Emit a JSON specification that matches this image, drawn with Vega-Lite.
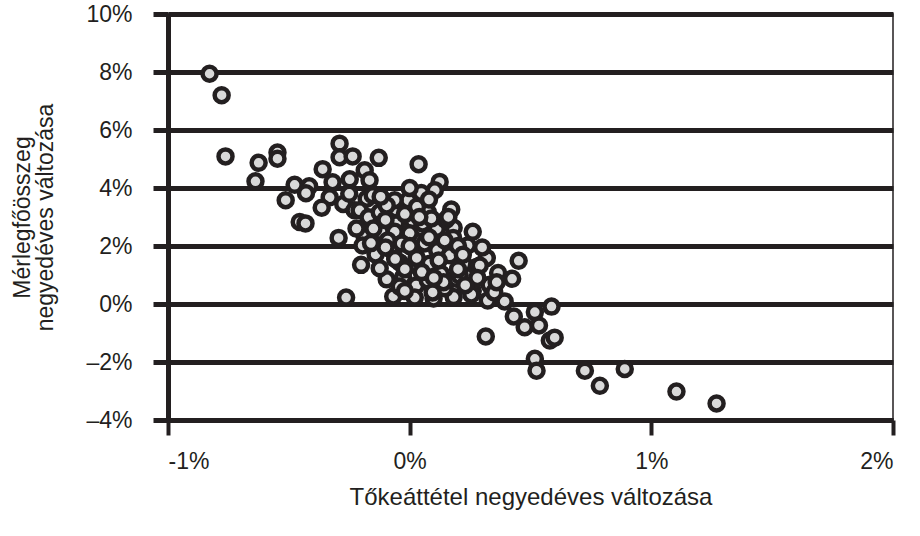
{
  "$schema": "https://vega.github.io/schema/vega-lite/v6.json",
  "width": 725,
  "height": 406,
  "autosize": {"type": "none"},
  "padding": {"left": 168, "top": 14, "right": 27, "bottom": 116},
  "background": "white",
  "config": {
    "font": "Liberation Sans",
    "view": {"stroke": "#231f20", "strokeWidth": 1.5}
  },
  "data": {
    "values": [
      {"x": -0.828, "y": 7.94}, {"x": -0.778, "y": 7.2}, {"x": -0.762, "y": 5.09}, {"x": -0.625, "y": 4.87},
      {"x": -0.547, "y": 5.22}, {"x": -0.547, "y": 5.01}, {"x": -0.638, "y": 4.23}, {"x": -0.476, "y": 4.11},
      {"x": -0.416, "y": 4.06}, {"x": -0.429, "y": 3.82}, {"x": -0.513, "y": 3.58}, {"x": -0.36, "y": 4.65},
      {"x": -0.319, "y": 4.2}, {"x": -0.248, "y": 4.3}, {"x": -0.29, "y": 5.53}, {"x": -0.29, "y": 5.06},
      {"x": -0.236, "y": 5.09}, {"x": -0.331, "y": 3.68}, {"x": -0.364, "y": 3.32}, {"x": -0.275, "y": 3.45},
      {"x": -0.228, "y": 3.23}, {"x": -0.455, "y": 2.83}, {"x": -0.431, "y": 2.78}, {"x": -0.294, "y": 2.28},
      {"x": -0.128, "y": 5.04}, {"x": 0.037, "y": 4.82}, {"x": -0.186, "y": 4.61}, {"x": -0.166, "y": 4.27},
      {"x": -0.178, "y": 3.63}, {"x": -0.207, "y": 3.23}, {"x": 0.124, "y": 4.21}, {"x": 0.104, "y": 3.92},
      {"x": 0.048, "y": 3.83}, {"x": -0.006, "y": 3.58}, {"x": -0.056, "y": 3.26}, {"x": 0.172, "y": 3.26},
      {"x": 0.075, "y": 3.16}, {"x": -0.17, "y": 2.99}, {"x": -0.124, "y": 3.16}, {"x": -0.056, "y": 2.78},
      {"x": 0.012, "y": 2.88}, {"x": 0.05, "y": 2.61}, {"x": 0.112, "y": 2.59}, {"x": 0.182, "y": 2.63},
      {"x": 0.261, "y": 2.49}, {"x": -0.186, "y": 2.31}, {"x": -0.12, "y": 2.49}, {"x": -0.062, "y": 2.49},
      {"x": 0.0, "y": 2.44}, {"x": -0.195, "y": 2.02}, {"x": -0.141, "y": 1.71}, {"x": -0.07, "y": 1.83},
      {"x": 0.029, "y": 1.59}, {"x": 0.114, "y": 1.85}, {"x": 0.18, "y": 2.28}, {"x": 0.24, "y": 2.02},
      {"x": 0.224, "y": 1.38}, {"x": 0.277, "y": 1.28}, {"x": 0.319, "y": 1.59}, {"x": 0.366, "y": 1.07},
      {"x": 0.424, "y": 0.87}, {"x": 0.451, "y": 1.49}, {"x": -0.201, "y": 1.35}, {"x": -0.095, "y": 0.85},
      {"x": -0.027, "y": 0.93}, {"x": 0.027, "y": 0.64}, {"x": 0.13, "y": 1.04}, {"x": 0.193, "y": 0.87},
      {"x": 0.261, "y": 0.45}, {"x": 0.331, "y": 0.66}, {"x": -0.068, "y": 0.26}, {"x": 0.021, "y": 0.22},
      {"x": 0.099, "y": 0.19}, {"x": 0.182, "y": 0.24}, {"x": 0.255, "y": 0.33}, {"x": 0.323, "y": 0.12},
      {"x": 0.393, "y": 0.09}, {"x": -0.263, "y": 0.22}, {"x": 0.083, "y": 1.39}, {"x": 0.587, "y": -0.09},
      {"x": 0.518, "y": -0.28}, {"x": 0.431, "y": -0.43}, {"x": 0.476, "y": -0.8}, {"x": 0.535, "y": -0.74},
      {"x": 0.58, "y": -1.26}, {"x": 0.6, "y": -1.16}, {"x": 0.315, "y": -1.12}, {"x": 0.518, "y": -1.89},
      {"x": 0.525, "y": -2.3}, {"x": 0.725, "y": -2.3}, {"x": 0.787, "y": -2.82}, {"x": 0.89, "y": -2.24},
      {"x": 1.104, "y": -3.02}, {"x": 1.27, "y": -3.43}, {"x": -0.062, "y": 3.58}, {"x": -0.091, "y": 2.19},
      {"x": -0.033, "y": 2.09}, {"x": 0.062, "y": 2.09}, {"x": 0.145, "y": 2.19}, {"x": -0.041, "y": 1.43},
      {"x": 0.166, "y": 1.68}, {"x": 0.075, "y": 0.81}, {"x": 0.145, "y": 0.54}, {"x": -0.041, "y": 0.6},
      {"x": -0.124, "y": 1.23}, {"x": -0.153, "y": 3.75}, {"x": -0.095, "y": 3.4}, {"x": 0.054, "y": 2.78},
      {"x": 0.207, "y": 0.98}, {"x": 0.29, "y": 1.33}, {"x": 0.095, "y": 0.4},
      {"x": -0.15, "y": 2.6}, {"x": -0.1, "y": 2.9}, {"x": -0.02, "y": 3.1}, {"x": 0.03, "y": 3.35},
      {"x": 0.09, "y": 2.95}, {"x": 0.15, "y": 2.9}, {"x": 0.2, "y": 2.0}, {"x": 0.12, "y": 1.5},
      {"x": 0.05, "y": 1.1}, {"x": -0.02, "y": 1.2}, {"x": 0.0, "y": 2.0}, {"x": 0.08, "y": 2.3},
      {"x": 0.2, "y": 1.2}, {"x": 0.28, "y": 0.9}, {"x": 0.14, "y": 0.75}, {"x": -0.1, "y": 1.95},
      {"x": -0.16, "y": 2.1}, {"x": 0.3, "y": 1.95}, {"x": 0.23, "y": 0.65}, {"x": -0.02, "y": 0.45},
      {"x": 0.35, "y": 0.4}, {"x": 0.04, "y": 3.0}, {"x": -0.12, "y": 3.7}, {"x": 0.0, "y": 4.0},
      {"x": 0.08, "y": 3.6}, {"x": -0.25, "y": 3.8}, {"x": -0.22, "y": 2.6}, {"x": 0.16, "y": 3.0},
      {"x": 0.22, "y": 1.7}, {"x": -0.06, "y": 1.55}, {"x": 0.1, "y": 0.9}, {"x": 0.36, "y": 0.75}
    ]
  },
  "mark": {
    "type": "point",
    "shape": "circle",
    "filled": true,
    "size": 196,
    "fill": "#d9d9d9",
    "stroke": "#231f20",
    "strokeWidth": 4.5,
    "opacity": 1
  },
  "encoding": {
    "x": {
      "field": "x",
      "type": "quantitative",
      "scale": {"domain": [-1, 2], "nice": false, "zero": false},
      "axis": {
        "values": [-1, 0, 1, 2],
        "labelExpr": "datum.value + '%'",
        "title": "Tőkeáttétel negyedéves változása",
        "grid": false,
        "domainColor": "#231f20",
        "domainWidth": 5,
        "tickColor": "#231f20",
        "tickWidth": 4,
        "tickSize": 15,
        "labelFont": "Liberation Sans",
        "labelFontSize": 23,
        "labelColor": "#231f20",
        "labelPadding": 15,
        "titleFont": "Liberation Sans",
        "titleFontSize": 24,
        "titleFontWeight": "normal",
        "titleColor": "#231f20",
        "titlePadding": 12
      }
    },
    "y": {
      "field": "y",
      "type": "quantitative",
      "scale": {"domain": [-4, 10], "nice": false, "zero": false},
      "axis": {
        "values": [-4, -2, 0, 2, 4, 6, 8, 10],
        "labelExpr": "datum.value < 0 ? '–' + abs(datum.value) + '%' : datum.value + '%'",
        "title": ["Mérlegfőösszeg", "negyedéves változása"],
        "grid": true,
        "gridColor": "#231f20",
        "gridWidth": 5,
        "gridOpacity": 1,
        "domainColor": "#231f20",
        "domainWidth": 5,
        "tickColor": "#231f20",
        "tickWidth": 5,
        "tickSize": 15,
        "labelFont": "Liberation Sans",
        "labelFontSize": 23,
        "labelColor": "#231f20",
        "labelPadding": 21,
        "titleFont": "Liberation Sans",
        "titleFontSize": 23,
        "titleFontWeight": "normal",
        "titleColor": "#231f20",
        "titleLineHeight": 23,
        "titlePadding": 28
      }
    }
  }
}
